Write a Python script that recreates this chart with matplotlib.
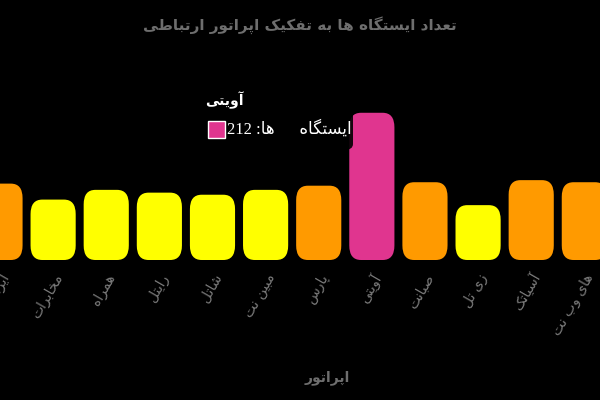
import re
import matplotlib
matplotlib.use("Agg")
import matplotlib.pyplot as plt
from matplotlib.patches import FancyBboxPatch, Rectangle

# data
labels = ["ایرانسل", "مخابرات", "همراه", "رایتل", "شاتل", "مبین نت",
          "پارس", "آویتی", "صبانت", "زی تل", "آسیاتک", "های وب نت"]
values = [110, 87, 101, 97, 94, 101, 107, 212, 112, 79, 115, 112]
title = "تعداد ایستگاه ها به تفکیک اپراتور ارتباطی"
xlabel = "اپراتور"
tip_name = "آویتی"
tip_text = "ایستگاه      ها: 212"

# minimal persian shaping: (isolated, final, initial, medial)
FORMS = {
    "ا": (0xFE8D, 0xFE8E), "آ": (0xFE81, 0xFE82), "د": (0xFEA9, 0xFEAA),
    "ذ": (0xFEAB, 0xFEAC), "ر": (0xFEAD, 0xFEAE), "ز": (0xFEAF, 0xFEB0),
    "ژ": (0xFB8A, 0xFB8B), "و": (0xFEED, 0xFEEE),
    "ب": (0xFE8F, 0xFE90, 0xFE91, 0xFE92), "پ": (0xFB56, 0xFB57, 0xFB58, 0xFB59),
    "ت": (0xFE95, 0xFE96, 0xFE97, 0xFE98), "ث": (0xFE99, 0xFE9A, 0xFE9B, 0xFE9C),
    "ج": (0xFE9D, 0xFE9E, 0xFE9F, 0xFEA0), "چ": (0xFB7A, 0xFB7B, 0xFB7C, 0xFB7D),
    "ح": (0xFEA1, 0xFEA2, 0xFEA3, 0xFEA4), "خ": (0xFEA5, 0xFEA6, 0xFEA7, 0xFEA8),
    "س": (0xFEB1, 0xFEB2, 0xFEB3, 0xFEB4), "ش": (0xFEB5, 0xFEB6, 0xFEB7, 0xFEB8),
    "ص": (0xFEB9, 0xFEBA, 0xFEBB, 0xFEBC), "ط": (0xFEC1, 0xFEC2, 0xFEC3, 0xFEC4),
    "ع": (0xFEC9, 0xFECA, 0xFECB, 0xFECC), "ف": (0xFED1, 0xFED2, 0xFED3, 0xFED4),
    "ق": (0xFED5, 0xFED6, 0xFED7, 0xFED8), "ک": (0xFB8E, 0xFB8F, 0xFB90, 0xFB91),
    "گ": (0xFB92, 0xFB93, 0xFB94, 0xFB95), "ل": (0xFEDD, 0xFEDE, 0xFEDF, 0xFEE0),
    "م": (0xFEE1, 0xFEE2, 0xFEE3, 0xFEE4), "ن": (0xFEE5, 0xFEE6, 0xFEE7, 0xFEE8),
    "ه": (0xFEE9, 0xFEEA, 0xFEEB, 0xFEEC), "ی": (0xFBFC, 0xFBFD, 0xFBFE, 0xFBFF),
}


def fa(s):
    out = []
    for i, c in enumerate(s):
        if c not in FORMS:
            out.append(c)
            continue
        prev = s[i - 1] if i > 0 else ""
        nxt = s[i + 1] if i + 1 < len(s) else ""
        join_prev = prev in FORMS and len(FORMS[prev]) == 4
        join_next = len(FORMS[c]) == 4 and nxt in FORMS
        f = FORMS[c]
        if join_prev and join_next:
            k = 3
        elif join_prev:
            k = 1
        elif join_next:
            k = 2
        else:
            k = 0
        out.append(chr(f[k]))
    vis = "".join(out)[::-1]
    return re.sub(r"[0-9]+", lambda m: m.group(0)[::-1], vis)


YELLOW = "#ffff00"
ORANGE = "#ff9a00"
PINK = "#e0358f"
colors = [PINK if v >= 200 else ORANGE if v >= 105 else YELLOW for v in values]

fig = plt.figure(figsize=(6, 4), dpi=100, facecolor="black")
ax = fig.add_axes([0, 0.35, 1, 0.5])
ax.set_facecolor("black")

x = list(range(len(values)))
bars = ax.bar(x, values, width=0.85, color="none")
for b, c in zip(bars, colors):
    ax.add_patch(FancyBboxPatch((b.get_x(), 0), b.get_width(), b.get_height(),
                                boxstyle="round,pad=0,rounding_size=0.22",
                                mutation_aspect=95, facecolor=c,
                                edgecolor="none"))

ax.set_xlim(0.205, 11.295)
ax.set_ylim(0, 288)
for s in ax.spines.values():
    s.set_visible(False)
ax.set_yticks([])
ax.set_xticks(x)
ax.set_xticklabels([fa(l) for l in labels], rotation=60, ha="right",
                   rotation_mode="anchor", color="#7a7a7a", fontsize=10)
ax.tick_params(axis="x", length=0, pad=8)

fig.text(0.5, 1 - 25 / 400, fa(title), ha="center", va="center",
         color="#6e6e6e", fontsize=11, fontweight="bold")
fig.text(0.545, 1 - 378 / 400, fa(xlabel), ha="center", va="center",
         color="#6e6e6e", fontsize=10, fontweight="bold")

# tooltip
fig.add_artist(FancyBboxPatch((195 / 600, 1 - 150 / 400), 158 / 600, 62 / 400,
                              boxstyle="round,pad=0,rounding_size=0.015",
                              transform=fig.transFigure, facecolor="black",
                              edgecolor="none", alpha=0.9, zorder=5))
fig.text(205 / 600, 1 - 100 / 400, fa(tip_name), ha="left", va="center",
         color="white", fontsize=10, fontweight="bold", zorder=6)
fig.add_artist(Rectangle((208 / 600, 1 - 138 / 400), 17 / 600, 17 / 400,
                         transform=fig.transFigure, facecolor=PINK,
                         edgecolor="white", lw=1, zorder=6))
fig.text(227 / 600, 1 - 129 / 400, fa(tip_text), ha="left", va="center",
         color="white", fontsize=12, zorder=6,
         family=["Liberation Serif", "DejaVu Sans"])

fig.savefig("out.png", dpi=100, facecolor="black")
